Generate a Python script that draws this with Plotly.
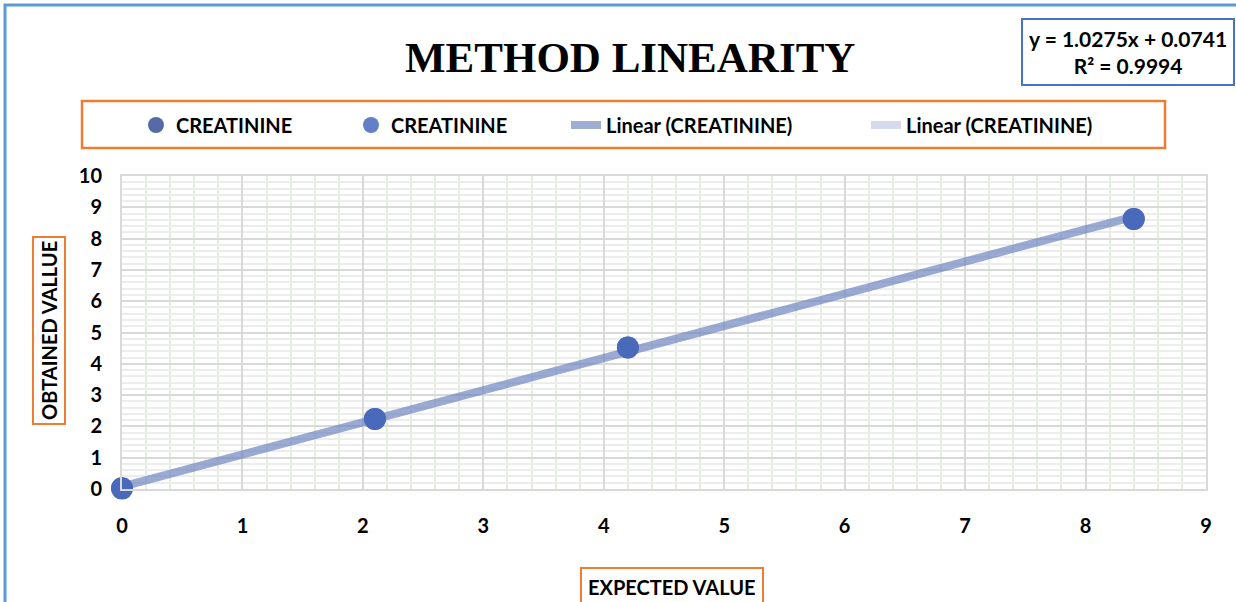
import plotly.graph_objects as go

# ---- data ----
expected = [0.0, 2.1, 4.2, 8.4]
obtained = [0.02, 2.24, 4.52, 8.63]
series_names = ["CREATININE", "CREATININE"]
trend_names = ["Linear (CREATININE)", "Linear (CREATININE)"]
trend_slope = 1.0275
trend_intercept = 0.0741
r_squared = 0.9994
x_ticks = [0, 1, 2, 3, 4, 5, 6, 7, 8, 9]
y_ticks = [0, 1, 2, 3, 4, 5, 6, 7, 8, 9, 10]

W, H = 1236, 602
L, R, T, B = 122, 1206, 176, 489
pw, ph = R - L, B - T


def px(x):
    return (x - L) / pw


def py(y):
    return (B - y) / ph


FONT = "Lato, 'Liberation Sans', sans-serif"

trend_x = [min(expected), max(expected)]
trend_y = [trend_slope * v + trend_intercept for v in trend_x]

fig = go.Figure()
# trendlines
fig.add_trace(go.Scatter(x=trend_x, y=trend_y, mode="lines", name=trend_names[0],
                         line=dict(color="rgba(60,92,170,0.5)", width=8),
                         legend="legend2", cliponaxis=False))
fig.add_trace(go.Scatter(x=trend_x, y=trend_y, mode="lines", name=trend_names[1],
                         line=dict(color="rgba(150,165,210,0.4)", width=8),
                         legend="legend2", cliponaxis=False))
# points
fig.add_trace(go.Scatter(x=expected, y=obtained, mode="markers", name=series_names[0],
                         marker=dict(color="#566BA6", size=22), legend="legend",
                         cliponaxis=False))
fig.add_trace(go.Scatter(x=expected, y=obtained, mode="markers", name=series_names[1],
                         marker=dict(color="rgba(70,104,190,0.85)", size=22), legend="legend",
                         cliponaxis=False))

axis_common = dict(
    showgrid=True, gridcolor="#D9D9D9", gridwidth=2,
    showline=True, linecolor="#D9D9D9", linewidth=2, mirror=True,
    zeroline=False, ticks="",
    tickfont=dict(family=FONT, size=20, color="black", weight="bold"),
)

fig.update_xaxes(range=[0, 9], tickvals=x_ticks, ticklabelstandoff=18,
                 minor=dict(dtick=0.2, showgrid=True, gridcolor="#E2EFDA", gridwidth=1.5),
                 **axis_common)
fig.update_yaxes(range=[0, 10], tickvals=y_ticks, ticklabelstandoff=14,
                 minor=dict(dtick=0.2, showgrid=True, gridcolor="#EDEDED", gridwidth=1.5),
                 **axis_common)

legend_font = dict(family=FONT, size=20, color="black", weight="bold")
fig.update_layout(
    width=W, height=H,
    margin=dict(l=L, r=W - R, t=T, b=H - B, autoexpand=False),
    paper_bgcolor="white", plot_bgcolor="white",
    legend=dict(orientation="h", x=px(136), y=py(125), xanchor="left", yanchor="middle",
                font=legend_font, entrywidth=170, bgcolor="rgba(0,0,0,0)",
                itemsizing="trace"),
    legend2=dict(orientation="h", x=px(566), y=py(125), xanchor="left", yanchor="middle",
                 font=legend_font, entrywidth=255, bgcolor="rgba(0,0,0,0)"),
    showlegend=True,
)

# title
fig.add_annotation(text="<b>METHOD LINEARITY</b>", xref="paper", yref="paper",
                   x=px(630), y=py(57), xanchor="center", yanchor="middle", showarrow=False,
                   font=dict(family="'Liberation Serif', 'Times New Roman', serif", size=43, color="black"))

# equation box
fig.add_annotation(text="<b>y = %.4fx + %.4f</b><br><b>R² = %.4f</b>" % (trend_slope, trend_intercept, r_squared),
                   xref="paper", yref="paper", x=px(1021), y=py(18), xanchor="left", yanchor="top",
                   showarrow=False, align="center",
                   font=dict(family=FONT, size=21, color="black"),
                   bordercolor="#4472C4", borderwidth=2, borderpad=6, bgcolor="white")

# axis title boxes
fig.add_annotation(text="<b>OBTAINED VALLUE</b>", xref="paper", yref="paper",
                   x=px(49), y=py(331), xanchor="center", yanchor="middle", showarrow=False,
                   textangle=-90, font=dict(family=FONT, size=20, color="black"),
                   bordercolor="#ED7D31", borderwidth=2, borderpad=3)
fig.add_annotation(text="<b>EXPECTED VALUE</b>", xref="paper", yref="paper",
                   x=px(672), y=py(567), xanchor="center", yanchor="top", showarrow=False,
                   font=dict(family=FONT, size=20, color="black"),
                   bordercolor="#ED7D31", borderwidth=2, borderpad=6)

# legend box
fig.add_shape(type="rect", xref="paper", yref="paper",
              x0=px(82), x1=px(1165), y0=py(148), y1=py(101),
              line=dict(color="#ED7D31", width=2.5), fillcolor="rgba(0,0,0,0)")
# chart border
fig.add_shape(type="rect", xref="paper", yref="paper",
              x0=px(5), x1=px(1300), y0=py(700), y1=py(5),
              line=dict(color="#5B9BD5", width=3), fillcolor="rgba(0,0,0,0)")

fig.write_html("out.html", config={"displayModeBar": False},
               post_script="document.body.style.margin='0';")
